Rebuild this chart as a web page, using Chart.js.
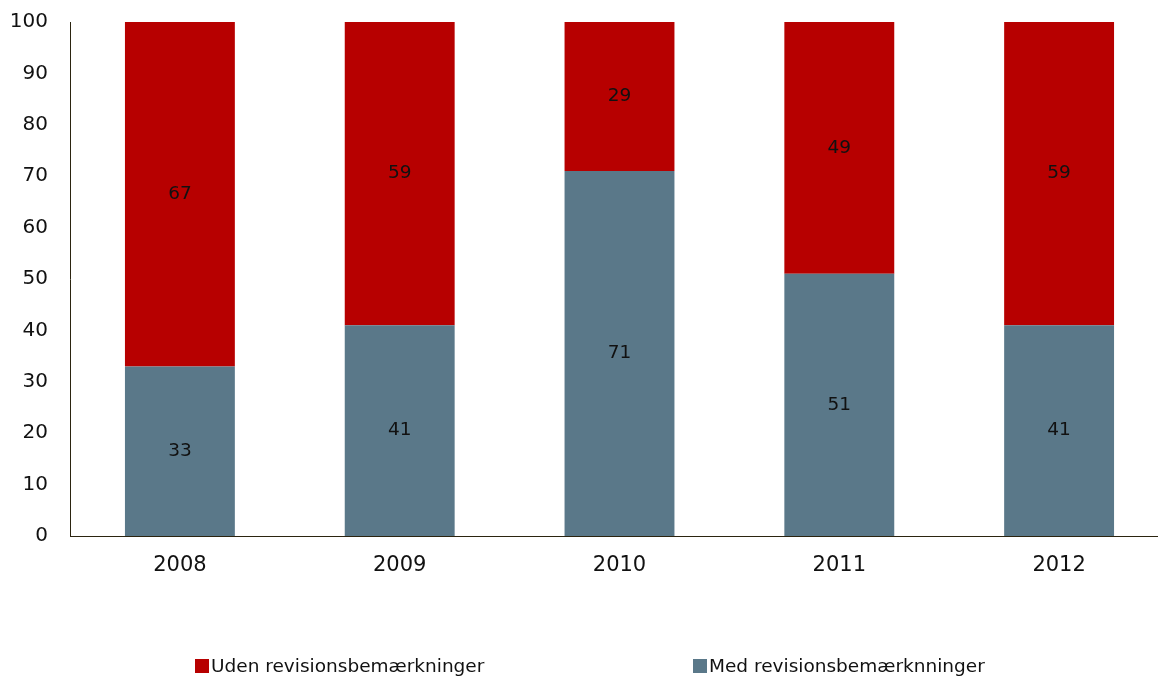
<!DOCTYPE html>
<html>
<head>
<meta charset="utf-8">
<script src="https://cdn.jsdelivr.net/npm/chart.js@4/dist/chart.umd.min.js"></script>
<style>
  html, body { margin: 0; padding: 0; background: #fff; overflow: hidden; }
  #wrap { width: 1169px; height: 676px; }
</style>
</head>
<body>
<div id="wrap"><canvas id="c" width="1169" height="676"></canvas></div>
<script>
const years = ['2008', '2009', '2010', '2011', '2012'];
const medValues = [33, 41, 71, 51, 41];
const udenValues = [67, 59, 29, 49, 59];
const yTicks = [0, 10, 20, 30, 40, 50, 60, 70, 80, 90, 100];
const labelMed = 'Med revisionsbemærknninger';
const labelUden = 'Uden revisionsbemærkninger';

const colorMed = '#5A7889';
const colorUden = '#B70000';
const axisColor = '#2B2410';
const FONT = "'DejaVu Sans', Verdana, sans-serif";

const valueLabels = {
  id: 'valueLabels',
  afterDatasetsDraw(chart) {
    const ctx = chart.ctx;
    ctx.save();
    ctx.font = '18.5px ' + FONT;
    ctx.fillStyle = '#111';
    ctx.textAlign = 'center';
    ctx.textBaseline = 'middle';
    chart.data.datasets.forEach((ds, di) => {
      const meta = chart.getDatasetMeta(di);
      meta.data.forEach((el, i) => {
        const y = (el.y + el.base) / 2;
        ctx.fillText(String(ds.data[i]), el.x, y);
      });
    });
    ctx.restore();
  }
};

const bottomLegend = {
  id: 'bottomLegend',
  afterDraw(chart) {
    const ctx = chart.ctx;
    const items = [
      { text: chart.data.datasets[1].label, color: chart.data.datasets[1].backgroundColor, x: 195 },
      { text: chart.data.datasets[0].label, color: chart.data.datasets[0].backgroundColor, x: 693 }
    ];
    const cy = 666;
    ctx.save();
    ctx.font = '18.5px ' + FONT;
    ctx.textBaseline = 'middle';
    ctx.textAlign = 'left';
    items.forEach(it => {
      ctx.fillStyle = it.color;
      ctx.fillRect(it.x, cy - 7, 14, 14);
      ctx.fillStyle = '#111';
      ctx.fillText(it.text, it.x + 16, cy + 1);
    });
    ctx.restore();
  }
};

new Chart(document.getElementById('c'), {
  type: 'bar',
  data: {
    labels: years,
    datasets: [
      { label: labelMed, data: medValues, backgroundColor: colorMed, borderWidth: 0 },
      { label: labelUden, data: udenValues, backgroundColor: colorUden, borderWidth: 0 }
    ]
  },
  options: {
    responsive: false,
    animation: false,
    devicePixelRatio: 1,
    layout: { padding: { top: 22, right: 0, bottom: 102, left: 0 } },
    plugins: {
      legend: { display: false },
      tooltip: { enabled: false },
      title: { display: false }
    },
    datasets: {
      bar: { barPercentage: 0.5, categoryPercentage: 1.0 }
    },
    scales: {
      x: {
        stacked: true,
        grid: { display: false, drawTicks: false },
        border: { display: true, color: axisColor, width: 1 },
        ticks: { color: '#111', font: { family: FONT, size: 21 }, padding: 17 },
        afterFit: s => { s.height = 38; s.paddingLeft = 0; s.paddingRight = 0; }
      },
      y: {
        stacked: true,
        min: 0,
        max: 100,
        afterBuildTicks: s => { s.ticks = yTicks.map(v => ({ value: v })); },
        grid: { display: false, drawTicks: false },
        border: { display: true, color: axisColor, width: 1 },
        ticks: { color: '#111', font: { family: FONT, size: 20 }, padding: 22 },
        afterFit: s => { s.width = 70; s.paddingTop = 0; s.paddingBottom = 0; }
      }
    }
  },
  plugins: [valueLabels, bottomLegend]
});
</script>
</body>
</html>
